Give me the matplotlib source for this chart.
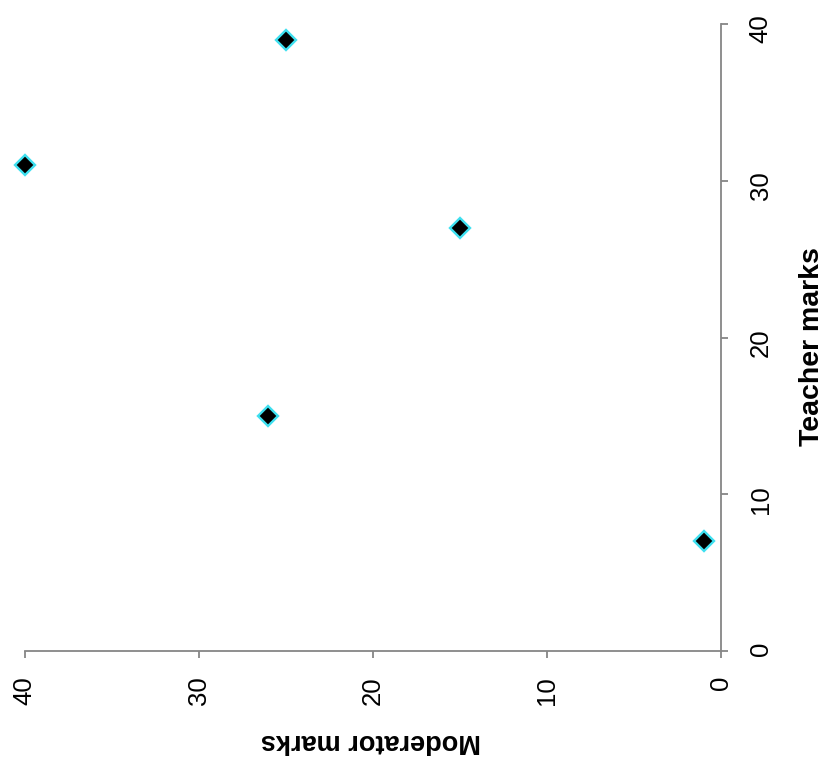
"""Teacher vs moderator marks scatter, drawn in the rotated layout of the reference."""

import matplotlib

matplotlib.use("Agg")
import matplotlib.pyplot as plt

plt.rcParams["font.family"] = ["Liberation Sans", "DejaVu Sans"]

# (moderator, teacher) pairs
moderator_marks = [25, 40, 15, 26, 1]
teacher_marks = [39, 31, 27, 15, 7]
tick_values = [0, 10, 20, 30, 40]

AXIS_GREY = "#868686"
EDGE_CYAN = "#3ee0f0"


def main() -> None:
    fig = plt.figure(figsize=(8.25, 7.65), dpi=100)
    # axes box in pixels: left 24.7, right 721, top 24, bottom 651
    ax = fig.add_axes([24.7 / 825, 1 - 651 / 765, (721 - 24.7) / 825, (651 - 24) / 765])

    ax.plot(
        moderator_marks,
        teacher_marks,
        linestyle="none",
        marker="D",
        markersize=10.5,
        markerfacecolor="black",
        markeredgecolor=EDGE_CYAN,
        markeredgewidth=1.7,
        clip_on=False,
        zorder=3,
    )

    ax.set_xlim(40, 0)
    ax.set_ylim(0, 40)
    ax.set_xticks(tick_values)
    ax.set_yticks(tick_values)

    ax.yaxis.tick_right()
    ax.yaxis.set_label_position("right")
    for side in ["top", "left"]:
        ax.spines[side].set_visible(False)
    for side in ["bottom", "right"]:
        ax.spines[side].set_color(AXIS_GREY)
        ax.spines[side].set_linewidth(1.3)

    ax.tick_params(axis="both", direction="out", length=5, width=1.3, color=AXIS_GREY, labelsize=18.5)
    ax.tick_params(axis="y", labelrotation=90, pad=15)
    ax.tick_params(axis="x", labelrotation=90, pad=13)

    ax.set_xlabel("Moderator marks", fontsize=19.5, fontweight="bold", rotation=180, ha="center", va="center")
    ax.set_ylabel("Teacher marks", fontsize=20.5, fontweight="bold", rotation=90, ha="center", va="center")
    ax.xaxis.set_label_coords(0.497, -0.1435)
    ax.yaxis.set_label_coords(1.131, 0.485)

    fig.savefig("out.png", dpi=100)
    plt.close(fig)


if __name__ == "__main__":
    main()
